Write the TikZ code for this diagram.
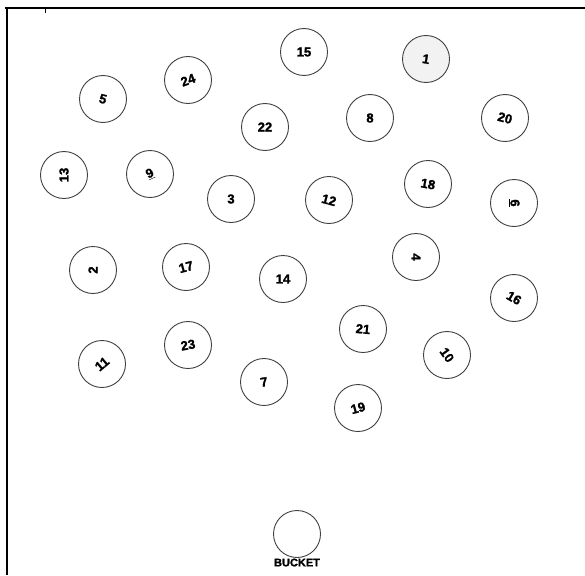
\documentclass[tikz,border=0pt]{standalone}
\usepackage{fontspec}
\setmainfont{Liberation Sans}
\newfontfamily\ballfont[FakeBold=1.6]{Liberation Sans Bold}
\usetikzlibrary{positioning}

\begin{document}
\begin{tikzpicture}[
    x=1pt, y=-1pt,
    every node/.style={font=\ballfont\fontsize{13}{15}\selectfont},
    ball/.style={draw=black!75, line width=0.9pt, circle, minimum size=47pt, inner sep=0pt, fill=white},
    start/.style={ball, fill=black!5},
    frame/.style={line width=1.8pt}
]
\useasboundingbox (0,0) rectangle (585,575);
% frame
\draw[frame] (5,8) -- (585,8);
\draw[frame] (7,8) -- (7,575);
\draw[line width=0.5pt] (45,8) -- (45,13);
% balls
\node[start] (b1) at (426,59) {\rotatebox{-10}{1}};
\node[ball] (b15) at (304,52) {15};
\node[ball] (b24) at (188,80) {\rotatebox{20}{24}};
\node[ball] (b5) at (103,99) {\rotatebox{-15}{5}};
\node[ball] (b22) at (265,127) {22};
\node[ball] (b8) at (370,118) {8};
\node[ball] (b20) at (505,118) {\rotatebox{-15}{20}};
\node[ball] (b13) at (64,175) {\rotatebox{90}{13}};
\node[ball] (b9) at (150,174) {\rotatebox{25}{\underline{9}}};
\node[ball] (b3) at (231,199) {3};
\node[ball] (b12) at (329,200) {\rotatebox{-15}{12}};
\node[ball] (b18) at (428,184) {\rotatebox{-10}{18}};
\node[ball] (b6) at (514,203) {\rotatebox{-90}{\underline{6}}};
\node[ball] (b2) at (93,270) {\rotatebox{90}{2}};
\node[ball] (b17) at (186,267) {\rotatebox{15}{17}};
\node[ball] (b14) at (283,279) {14};
\node[ball] (b4) at (416,257) {\rotatebox{-90}{4}};
\node[ball] (b16) at (514,298) {\rotatebox{-30}{16}};
\node[ball] (b21) at (363,329) {\rotatebox{-5}{21}};
\node[ball] (b10) at (447,355) {\rotatebox{-55}{10}};
\node[ball] (b11) at (102,364) {\rotatebox{40}{11}};
\node[ball] (b23) at (188,345) {\rotatebox{10}{23}};
\node[ball] (b7) at (264,382) {\rotatebox{10}{7}};
\node[ball] (b19) at (358,408) {\rotatebox{15}{19}};
% bucket
\node[ball] (bucket) at (297,534) {};
\node[below=0pt of bucket, inner sep=0.5pt, font=\ballfont\fontsize{11}{12}\selectfont] (bucketlabel) {BUCKET};
\end{tikzpicture}
\end{document}
